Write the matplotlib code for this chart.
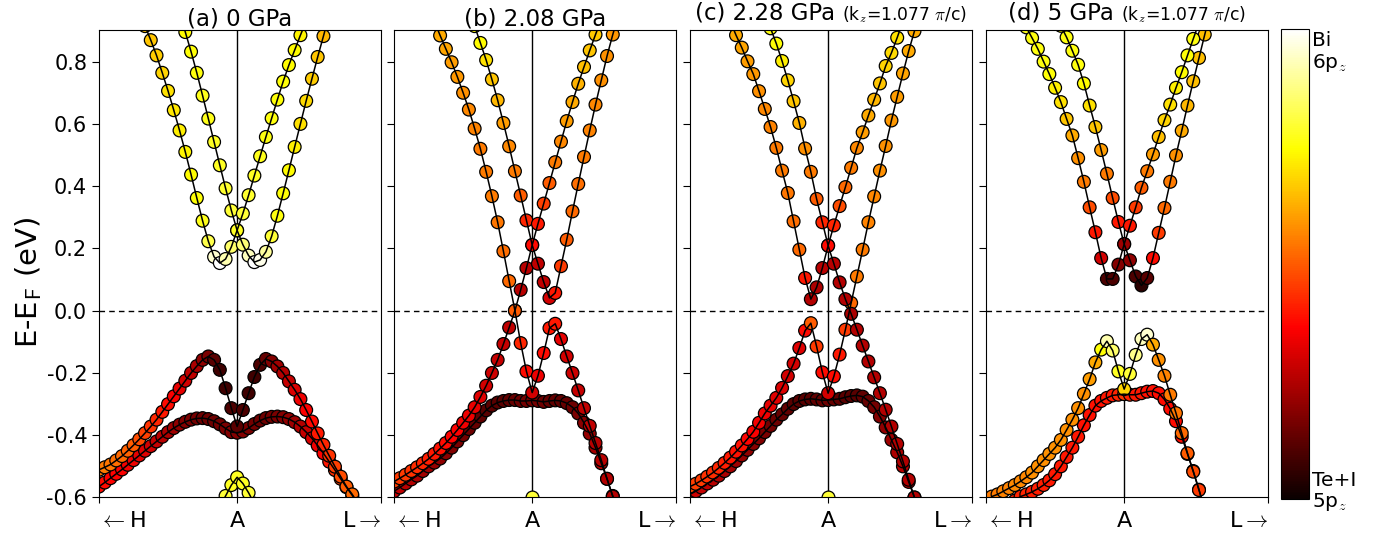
import numpy as np
import matplotlib
matplotlib.use("Agg")
import matplotlib.pyplot as plt
from matplotlib import cm
from matplotlib.colors import Normalize

plt.rcParams['font.family'] = ['DejaVu Sans']
plt.rcParams['mathtext.fontset'] = 'cm'

# k index along H - A - L (A at 0), one marker per k point
# each band: start index, energies (eV), Bi 6pz weight (0 = Te+I 5pz, 1 = Bi 6pz)

# ---------------------------------------------------------------- (a) 0 GPa
a_starts = [-10, -16, -24, -24, -3]
a_cb_in = [0.96, 0.895, 0.832, 0.764, 0.691, 0.617, 0.542, 0.467, 0.393, 0.322,
           0.258,
           0.312, 0.371, 0.434, 0.496, 0.558, 0.618, 0.678, 0.736, 0.789, 0.837, 0.885, 0.93]
a_cb_in_w = [0.72, 0.74, 0.75, 0.76, 0.77, 0.77, 0.78, 0.78, 0.79, 0.8,
             0.78,
             0.8, 0.79, 0.78, 0.77, 0.76, 0.76, 0.75, 0.75, 0.74, 0.74, 0.73, 0.72]
a_cb_out = [0.914, 0.869, 0.82, 0.764, 0.706, 0.644, 0.579, 0.51, 0.437, 0.362, 0.289, 0.223,
            0.173, 0.153, 0.166, 0.205,
            0.258,
            0.212, 0.177, 0.156, 0.163, 0.189, 0.239, 0.305, 0.377, 0.451, 0.526, 0.6,
            0.674, 0.745, 0.815, 0.882, 0.95]
a_cb_out_w = [0.65, 0.66, 0.67, 0.68, 0.7, 0.71, 0.72, 0.73, 0.74, 0.75, 0.77, 0.82, 0.95, 1.0,
              0.92, 0.85,
              0.78,
              0.86, 0.93, 1.0, 0.98, 0.9, 0.8, 0.76, 0.75, 0.74, 0.72, 0.7, 0.69, 0.67, 0.66,
              0.64, 0.63]
a_vb_up = [-0.511, -0.503, -0.494, -0.481, -0.467, -0.45, -0.432, -0.413, -0.393, -0.372,
           -0.35, -0.325, -0.3, -0.275, -0.25, -0.225, -0.2, -0.178, -0.158, -0.147, -0.158,
           -0.19, -0.249, -0.313,
           -0.372,
           -0.319, -0.265, -0.213, -0.174, -0.155, -0.163, -0.179, -0.2, -0.227, -0.254,
           -0.284, -0.319, -0.356, -0.394, -0.431, -0.466, -0.501, -0.533, -0.565, -0.59, -0.62]
a_vb_up_w = [0.55, 0.55, 0.54, 0.53, 0.52, 0.51, 0.5, 0.48, 0.46, 0.44, 0.42, 0.4, 0.38, 0.36,
             0.33, 0.3, 0.27, 0.24, 0.2, 0.17, 0.12, 0.08, 0.08, 0.1,
             0.12,
             0.1, 0.08, 0.08, 0.1, 0.14, 0.18, 0.22, 0.25, 0.28, 0.31, 0.34, 0.36, 0.38, 0.4,
             0.42, 0.44, 0.46, 0.48, 0.5, 0.52, 0.53]
a_vb_flat = [-0.565, -0.552, -0.538, -0.524, -0.51, -0.495, -0.48, -0.465, -0.45, -0.435,
             -0.42, -0.405, -0.39, -0.377, -0.366, -0.357, -0.35, -0.346, -0.345, -0.348,
             -0.355, -0.365, -0.378, -0.39,
             -0.392,
             -0.388, -0.377, -0.364, -0.353, -0.345, -0.341, -0.34, -0.342, -0.348, -0.358,
             -0.372, -0.39, -0.41, -0.433, -0.458, -0.485, -0.512, -0.54, -0.567, -0.593, -0.62]
a_vb_flat_w = [0.38, 0.38, 0.37, 0.37, 0.36, 0.35, 0.34, 0.33, 0.32, 0.3, 0.28, 0.26, 0.24,
               0.22, 0.2, 0.18, 0.17, 0.16, 0.15, 0.15, 0.15, 0.16, 0.17, 0.18,
               0.18,
               0.18, 0.17, 0.16, 0.15, 0.15, 0.16, 0.17, 0.18, 0.2, 0.22, 0.25, 0.28, 0.31,
               0.34, 0.37, 0.4, 0.43, 0.46, 0.49, 0.52, 0.54]
a_bi = [-0.63, -0.595, -0.56, -0.535, -0.555, -0.585, -0.62]
a_bi_w = [0.8, 0.8, 0.78, 0.78, 0.78, 0.8, 0.8]

# ------------------------------------------------------------- (b) 2.08 GPa
b_starts = [-10, -17, -24, -24, 0]
b_cb_in = [0.914, 0.86, 0.805, 0.743, 0.676, 0.603, 0.528, 0.448, 0.37, 0.29,
           0.211,
           0.279, 0.344, 0.41, 0.477, 0.543, 0.609, 0.67, 0.729, 0.783, 0.836, 0.887, 0.935]
b_cb_in_w = [0.75, 0.74, 0.7, 0.66, 0.64, 0.6, 0.57, 0.55, 0.5, 0.42,
             0.38,
             0.4, 0.46, 0.5, 0.55, 0.57, 0.6, 0.62, 0.63, 0.65, 0.66, 0.67, 0.68]
b_cross1 = [0.93, 0.884, 0.841, 0.798, 0.751, 0.7, 0.646, 0.585, 0.52, 0.446, 0.368, 0.284,
            0.191, 0.095, 0.0, -0.104, -0.195,
            -0.263,
            -0.209, -0.136, -0.056, -0.042, -0.091, -0.147, -0.2, -0.256, -0.313, -0.37,
            -0.425, -0.48, -0.54, -0.597, -0.65]
b_cross1_w = [0.63, 0.62, 0.61, 0.6, 0.59, 0.58, 0.57, 0.56, 0.55, 0.55, 0.55, 0.54, 0.53,
              0.52, 0.5, 0.42, 0.38,
              0.3,
              0.34, 0.38, 0.4, 0.4, 0.33, 0.3, 0.29, 0.28, 0.27, 0.27, 0.26, 0.26, 0.25, 0.25,
              0.25]
b_cross2 = [-0.549, -0.538, -0.527, -0.515, -0.503, -0.49, -0.476, -0.46, -0.443, -0.425,
            -0.405, -0.383, -0.36, -0.337, -0.31, -0.277, -0.241, -0.2, -0.158, -0.107,
            -0.054, 0.0, 0.067, 0.137,
            0.211,
            0.151, 0.092, 0.041, 0.057, 0.143, 0.228, 0.319, 0.407, 0.494, 0.579, 0.662,
            0.74, 0.818, 0.887, 0.95]
b_cross2_w = [0.46, 0.45, 0.45, 0.44, 0.43, 0.42, 0.41, 0.4, 0.39, 0.38, 0.37, 0.36, 0.35,
              0.34, 0.33, 0.32, 0.3, 0.29, 0.28, 0.28, 0.27, 0.27, 0.26, 0.26,
              0.3,
              0.27, 0.27, 0.3, 0.4, 0.45, 0.5, 0.52, 0.53, 0.55, 0.56, 0.57, 0.58, 0.58, 0.59,
              0.6]
b_vb_flat = [-0.58, -0.568, -0.555, -0.542, -0.53, -0.515, -0.5, -0.488, -0.475, -0.458,
             -0.44, -0.42, -0.4, -0.38, -0.36, -0.34, -0.32, -0.305, -0.295, -0.29, -0.287,
             -0.287, -0.29, -0.29,
             -0.288,
             -0.29, -0.293, -0.29, -0.288, -0.29, -0.297, -0.31, -0.33, -0.36, -0.395, -0.44,
             -0.49, -0.54, -0.595, -0.65]
b_vb_flat_w = [0.28, 0.27, 0.26, 0.25, 0.24, 0.23, 0.22, 0.21, 0.2, 0.19, 0.18, 0.17, 0.16,
               0.15, 0.14, 0.13, 0.12, 0.12, 0.12, 0.12, 0.13, 0.14, 0.15, 0.16,
               0.16,
               0.16, 0.15, 0.14, 0.13, 0.13, 0.14, 0.15, 0.17, 0.19, 0.21, 0.23, 0.25, 0.26,
               0.27, 0.28]
b_bi = [-0.6]
b_bi_w = [0.8]

# ------------------------------------------------------------- (c) 2.28 GPa
c_starts = [-10, -17, -24, -24, 0]
c_cb_in = [0.907, 0.858, 0.802, 0.74, 0.673, 0.603, 0.521, 0.446, 0.359, 0.284,
           0.209,
           0.274, 0.336, 0.397, 0.459, 0.523, 0.573, 0.627, 0.678, 0.73, 0.786, 0.828, 0.877,
           0.93]
c_cb_in_w = [0.76, 0.75, 0.72, 0.68, 0.66, 0.63, 0.58, 0.55, 0.5, 0.42,
             0.38,
             0.42, 0.48, 0.52, 0.55, 0.57, 0.6, 0.62, 0.64, 0.66, 0.68, 0.69, 0.7, 0.71]
c_cross1 = [0.93, 0.885, 0.845, 0.801, 0.76, 0.705, 0.648, 0.59, 0.523, 0.45, 0.378, 0.287,
            0.196, 0.105, 0.037, 0.075, 0.137,
            0.209,
            0.151, 0.091, 0.037, -0.01, -0.061, -0.112, -0.163, -0.214, -0.265, -0.318,
            -0.372, -0.428, -0.484, -0.543, -0.6, -0.66]
c_cross1_w = [0.63, 0.62, 0.61, 0.6, 0.59, 0.58, 0.57, 0.56, 0.55, 0.55, 0.54, 0.53, 0.52,
              0.4, 0.25, 0.24, 0.26,
              0.3,
              0.26, 0.25, 0.25, 0.24, 0.25, 0.25, 0.25, 0.25, 0.25, 0.25, 0.25, 0.25, 0.25,
              0.25, 0.25, 0.25]
c_cross2 = [-0.565, -0.556, -0.545, -0.533, -0.52, -0.505, -0.489, -0.472, -0.453, -0.433,
            -0.412, -0.389, -0.36, -0.33, -0.305, -0.28, -0.248, -0.21, -0.17, -0.12, -0.064,
            -0.04, -0.115, -0.198,
            -0.265,
            -0.211, -0.141, -0.061, 0.025, 0.11, 0.196, 0.284, 0.367, 0.45, 0.529, 0.611,
            0.687, 0.762, 0.834, 0.898, 0.96]
c_cross2_w = [0.47, 0.46, 0.45, 0.44, 0.43, 0.42, 0.41, 0.4, 0.39, 0.39, 0.37, 0.36, 0.35,
              0.34, 0.33, 0.32, 0.31, 0.3, 0.3, 0.32, 0.38, 0.5, 0.45, 0.38,
              0.3,
              0.38, 0.4, 0.45, 0.52, 0.55, 0.55, 0.56, 0.57, 0.58, 0.58, 0.59, 0.6, 0.61,
              0.62, 0.62, 0.63]
c_vb_flat = [-0.59, -0.58, -0.568, -0.555, -0.543, -0.53, -0.515, -0.5, -0.483, -0.465,
             -0.447, -0.428, -0.41, -0.39, -0.37, -0.35, -0.333, -0.315, -0.3, -0.29, -0.285,
             -0.283, -0.285, -0.288,
             -0.287,
             -0.285, -0.283, -0.278, -0.274, -0.272, -0.276, -0.29, -0.31, -0.34, -0.375,
             -0.415, -0.455, -0.5, -0.55, -0.6, -0.65]
c_vb_flat_w = [0.3, 0.29, 0.28, 0.27, 0.26, 0.25, 0.24, 0.23, 0.22, 0.21, 0.2, 0.19, 0.18,
               0.17, 0.16, 0.15, 0.14, 0.13, 0.12, 0.12, 0.12, 0.12, 0.13, 0.14,
               0.15,
               0.14, 0.13, 0.12, 0.12, 0.12, 0.13, 0.14, 0.16, 0.18, 0.2, 0.22, 0.24, 0.26,
               0.28, 0.3, 0.3]
c_bi = [-0.6]
c_bi_w = [0.8]

# ---------------------------------------------------------------- (d) 5 GPa
d_starts = [-11, -17, -24, -19]
d_cb_in = [0.915, 0.878, 0.835, 0.79, 0.73, 0.659, 0.59, 0.516, 0.44, 0.362, 0.285,
           0.214,
           0.273, 0.332, 0.395, 0.448, 0.502, 0.558, 0.612, 0.662, 0.716, 0.766, 0.82, 0.873,
           0.925]
d_cb_in_w = [0.76, 0.76, 0.76, 0.76, 0.74, 0.7, 0.66, 0.6, 0.55, 0.48, 0.4,
             0.22,
             0.4, 0.45, 0.5, 0.55, 0.6, 0.65, 0.68, 0.7, 0.72, 0.74, 0.75, 0.76, 0.76]
d_cb_out = [0.91, 0.876, 0.841, 0.8, 0.76, 0.716, 0.67, 0.616, 0.563, 0.49, 0.414, 0.332,
            0.252, 0.169, 0.102, 0.102, 0.148,
            0.214,
            0.162, 0.11, 0.081, 0.105, 0.169, 0.25, 0.33, 0.414, 0.499, 0.578, 0.659, 0.737,
            0.812, 0.887, 0.96]
d_cb_out_w = [0.77, 0.76, 0.76, 0.76, 0.75, 0.72, 0.7, 0.66, 0.62, 0.58, 0.55, 0.48, 0.4,
              0.3, 0.1, 0.1, 0.18,
              0.22,
              0.2, 0.1, 0.05, 0.12, 0.38, 0.45, 0.52, 0.55, 0.58, 0.62, 0.64, 0.65, 0.65,
              0.65, 0.65]
d_vb_up = [-0.63, -0.597, -0.59, -0.58, -0.57, -0.56, -0.548, -0.535, -0.52, -0.5, -0.48,
           -0.46, -0.44, -0.415, -0.383, -0.35, -0.313, -0.267, -0.22, -0.166, -0.125,
           -0.098, -0.128, -0.195,
           -0.252,
           -0.203, -0.142, -0.091, -0.077, -0.109, -0.158, -0.209, -0.27, -0.329, -0.393,
           -0.458, -0.517, -0.576, -0.64]
d_vb_up_w = [0.55, 0.55, 0.55, 0.56, 0.56, 0.57, 0.57, 0.57, 0.58, 0.58, 0.58, 0.58, 0.58,
             0.58, 0.58, 0.58, 0.58, 0.58, 0.6, 0.62, 0.75, 0.92, 0.85, 0.78,
             0.68,
             0.8, 0.88, 0.93, 0.95, 0.62, 0.58, 0.56, 0.55, 0.54, 0.52, 0.5, 0.48, 0.45, 0.45]
d_vb_flat = [-0.61, -0.597, -0.59, -0.582, -0.572, -0.56, -0.545, -0.525, -0.5, -0.47,
             -0.44, -0.405, -0.368, -0.335, -0.305, -0.29, -0.28, -0.272, -0.27,
             -0.268,
             -0.27, -0.27, -0.265, -0.26, -0.258, -0.265, -0.285, -0.315, -0.355, -0.405,
             -0.46, -0.515, -0.575, -0.64]
d_vb_flat_w = [0.42, 0.42, 0.42, 0.41, 0.41, 0.41, 0.4, 0.4, 0.4, 0.4, 0.4, 0.4, 0.39, 0.39,
               0.39, 0.39, 0.4, 0.4, 0.42,
               0.45,
               0.42, 0.4, 0.4, 0.39, 0.39, 0.38, 0.38, 0.38, 0.38, 0.38, 0.38, 0.38, 0.38,
               0.38]

titles = ["(a) 0 GPa", "(b) 2.08 GPa", "(c) 2.28 GPa", "(d) 5 GPa"]
title_extra = ["", "", r"(k$_z$=1.077 $\pi$/c)", r"(k$_z$=1.077 $\pi$/c)"]

panels = [
    (a_starts, [(a_vb_flat, a_vb_flat_w), (a_vb_up, a_vb_up_w), (a_cb_in, a_cb_in_w),
                (a_cb_out, a_cb_out_w), (a_bi, a_bi_w)]),
    (b_starts, [(b_vb_flat, b_vb_flat_w), (b_cross2, b_cross2_w), (b_cross1, b_cross1_w),
                (b_cb_in, b_cb_in_w), (b_bi, b_bi_w)]),
    (c_starts, [(c_vb_flat, c_vb_flat_w), (c_cross2, c_cross2_w), (c_cross1, c_cross1_w),
                (c_cb_in, c_cb_in_w), (c_bi, c_bi_w)]),
    (d_starts, [(d_vb_flat, d_vb_flat_w), (d_vb_up, d_vb_up_w), (d_cb_out, d_cb_out_w),
                (d_cb_in, d_cb_in_w)]),
]
# starts are listed in band order: cb_in, cb_out/cross1, vb_up/cross2, flat, bi
start_order = [[3, 2, 0, 1, 4], [3, 2, 1, 0, 4], [3, 2, 1, 0, 4], [3, 2, 1, 0]]

cmap = plt.get_cmap('hot')
norm = Normalize(0, 1)

fig = plt.figure(figsize=(13.88, 5.35), dpi=100)
renderer = fig.canvas.get_renderer()
ax_left = [0.0713, 0.2839, 0.4971, 0.7104]
for i, (starts, bands) in enumerate(panels):
    ax = fig.add_axes([ax_left[i], 0.0701, 0.2032, 0.8729])
    ax.axvline(0, color='black', lw=1.0, zorder=1)
    ax.axhline(0, color='black', lw=1.0, ls=(0, (4, 3)), zorder=1)
    for j, (energy, weight) in enumerate(bands):
        assert len(energy) == len(weight)
        k0 = starts[start_order[i][j]]
        k = k0 + np.arange(len(energy))
        ax.scatter(k, energy, c=weight, cmap=cmap, norm=norm, s=85,
                   edgecolors='black', linewidths=0.9, zorder=2)
        ax.plot(k, energy, color='black', lw=1.1, zorder=3)

    ax.set_xlim(-24, 25)
    ax.set_ylim(-0.6, 0.9)
    ax.set_yticks([-0.6, -0.4, -0.2, 0.0, 0.2, 0.4, 0.6, 0.8])
    ax.set_xticks([-24, 0, 25])
    ax.set_xticklabels([r"$\leftarrow$H", "A", r"L$\rightarrow$"], fontsize=16)
    xl = ax.get_xticklabels()
    xl[0].set_ha('left')
    xl[2].set_ha('right')
    ax.tick_params(axis='x', length=4, pad=6)
    if i == 0:
        ax.set_yticklabels(["-0.6", "-0.4", "-0.2", "0.0", "0.2", "0.4", "0.6", "0.8"],
                           fontsize=15)
        ax.set_ylabel(r"E-E$_\mathsf{F}$ (eV)", fontsize=21)
        ax.yaxis.set_label_coords(-0.195, 0.46)
    else:
        ax.set_yticklabels([])
    ax.tick_params(axis='y', length=5)
    if title_extra[i]:
        # main title and smaller k_z note, centred together over the panel
        t1 = ax.text(0.5, 1.012, titles[i] + " ", transform=ax.transAxes, fontsize=16.5,
                     ha='left', va='bottom')
        t2 = ax.text(0.5, 1.012, title_extra[i], transform=ax.transAxes, fontsize=12.3,
                     ha='left', va='bottom')
        w1 = t1.get_window_extent(renderer).width
        w2 = t2.get_window_extent(renderer).width
        axw = ax.get_window_extent(renderer).width
        x1 = 0.5 - (w1 + w2) / 2 / axw
        t1.set_x(x1)
        t2.set_x(x1 + w1 / axw)
    else:
        ax.set_title(titles[i], fontsize=16.5, pad=3)

cax = fig.add_axes([0.9229, 0.0673, 0.0202, 0.8785])
cb = fig.colorbar(cm.ScalarMappable(norm=norm, cmap=cmap), cax=cax)
cb.set_ticks([])
fig.text(0.9452, 0.942, "Bi\n6p$_z$", fontsize=14.5, ha='left', va='top', linespacing=1.1)
fig.text(0.9452, 0.120, "Te+I\n5p$_z$", fontsize=14.5, ha='left', va='top', linespacing=1.1)

fig.savefig("out.png", dpi=100)
